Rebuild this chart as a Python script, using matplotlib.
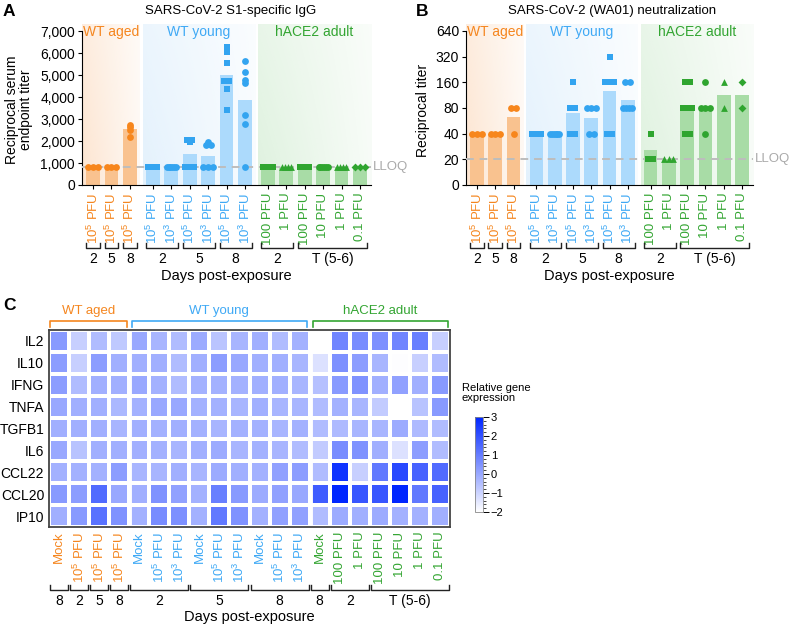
import numpy as np
import matplotlib
matplotlib.use("Agg")
import matplotlib.pyplot as plt
import matplotlib.transforms as mtransforms
from matplotlib.colors import LinearSegmentedColormap, to_rgb
from matplotlib.ticker import MultipleLocator

plt.rcParams['font.family'] = ['Liberation Sans', 'DejaVu Sans']
plt.rcParams['mathtext.fontset'] = 'custom'
plt.rcParams['mathtext.rm'] = 'Liberation Sans'
plt.rcParams['mathtext.it'] = 'Liberation Sans:italic'
plt.rcParams['mathtext.bf'] = 'Liberation Sans:bold'

### data
e5 = r'10$^{\mathregular{5}}$ PFU'
e3 = r'10$^{\mathregular{3}}$ PFU'

group_names = ['WT aged', 'WT young', 'hACE2 adult']
text_colors = ['#f5861f', '#3fa9f5', '#33a532']
point_colors = ['#f7861c', '#33a4f0', '#2fa52f']
bar_colors = ['#f9c28f', '#acdafc', '#a8dca6']
shade_colors = ['#f7a35c', '#9fd0f7', '#8fd18f']

ab_labels = [e5, e5, e5, e5, e3, e5, e3, e5, e3,
             '100 PFU', '1 PFU', '100 PFU', '10 PFU', '1 PFU', '0.1 PFU']
ab_group = [0, 0, 0, 1, 1, 1, 1, 1, 1, 2, 2, 2, 2, 2, 2]
ab_markers = ['o', 'o', 'o', 's', 'o', 's', 'o', 's', 'o', 's', '^', 's', 'o', '^', 'D']
ab_days = [('2', 0, 0), ('5', 1, 1), ('8', 2, 2), ('2', 3, 4), ('5', 5, 6),
           ('8', 7, 8), ('2', 9, 10), ('T (5-6)', 11, 14)]

# panel A: S1-specific IgG endpoint titers
igg_bars = [800, 800, 2525, 800, 800, 1400, 1300, 5000, 3850,
            800, 800, 800, 800, 800, 800]
igg_points = [
    [800, 800, 800],
    [800, 800, 800],
    [2200, 2500, 2650, 2750],
    [800] * 6,
    [800] * 6,
    [2050, 2050, 1950, 800, 800, 800],
    [1950, 1800, 1800, 800, 800, 800],
    [6290, 6060, 5530, 4730, 4730, 4350, 3410],
    [5650, 5120, 4770, 4620, 3180, 2760, 800],
    [800] * 5,
    [800] * 4,
    [800] * 6,
    [800] * 6,
    [800] * 4,
    [800] * 3,
]
igg_lloq = 800

# panel B: neutralization titers
neut_bars = [40, 40, 63, 40, 40, 70, 61, 127, 100, 26, 20, 83, 80, 113, 113]
neut_points = [
    [40, 40, 40],
    [40, 40, 40],
    [80, 80, 40],
    [40] * 6,
    [40] * 6,
    [160, 80, 80, 40, 40],
    [80, 80, 80, 40, 40],
    [320, 160, 160, 160, 40, 40],
    [160, 160, 80, 80, 80, 80],
    [40, 20, 20],
    [20, 20, 20],
    [160, 160, 80, 80, 80, 80, 40, 40],
    [160, 80, 80, 80, 40],
    [160, 80],
    [160, 80],
]
neut_lloq = 20

# panel C: heatmap
genes = ['IL2', 'IL10', 'IFNG', 'TNFA', 'TGFB1', 'IL6', 'CCL22', 'CCL20', 'IP10']
hm_labels = ['Mock', e5, e5, e5,
             'Mock', e5, e3, 'Mock', e5, e3, 'Mock', e5, e3,
             'Mock', '100 PFU', '1 PFU', '100 PFU', '10 PFU', '1 PFU', '0.1 PFU']
hm_group = [0] * 4 + [1] * 9 + [2] * 7
hm_days = [('8', 0, 0), ('2', 1, 1), ('5', 2, 2), ('8', 3, 3), ('2', 4, 6),
           ('5', 7, 9), ('8', 10, 12), ('8', 13, 13), ('2', 14, 15), ('T (5-6)', 16, 19)]
expr = [
    [0.33, -0.9, -0.45, -0.75, 0, -0.3, -0.45, -0.05, -0.65, -0.3, -0.15, -0.45, -0.2, -2, 0.8, 0.65, 0.55, 0.8, 0.96, -0.9],
    [0.25, -0.9, 0.25, -0.15, -0.15, -0.15, -0.45, -0.15, 0.25, 0, -0.15, -0.15, -0.3, -1.3, 0.55, 0.25, -0.3, -1.95, -0.9, -0.45],
    [0.25, -0.45, -0.15, -0.15, 0, -0.2, -0.45, -0.2, -0.2, -0.2, -0.15, -0.15, -0.3, -0.55, 0.33, 0.5, -0.15, 0.15, -0.15, 0.33],
    [0, -0.15, -0.15, -0.35, -0.2, 0, 0, -0.2, -0.2, -0.3, -0.15, -0.3, -0.3, -0.45, -0.2, -0.3, -0.8, -2, -0.6, 0.33],
    [-0.15, -0.15, -0.15, -0.3, -0.15, -0.2, -0.15, -0.2, -0.3, -0.2, -0.2, -0.3, -0.2, -0.45, -0.4, -0.3, -0.3, -0.05, -0.4, -0.45],
    [0, -0.6, -0.15, -0.15, -0.15, -0.2, -0.3, -0.15, -0.05, -0.3, -0.2, -0.3, -0.45, -0.8, 0.65, 0.5, -0.15, -1.3, 0.25, -0.45],
    [-0.2, -0.2, -0.2, 0.25, -0.3, -0.3, -0.15, -0.3, -0.05, -0.15, -0.2, 0.15, 0.25, -0.45, 2.7, -0.9, 1.1, 2.2, 1.6, 1.4],
    [0.33, 0.25, 1.4, 0, -0.15, 0.5, 0.15, -0.2, 0.96, 0.33, -0.05, 0.15, 0, 1.75, 3.0, 1.9, 1.9, 3.0, 1.1, 1.6],
    [-0.15, 0.33, 1.25, 0.5, -0.2, 0.65, 0.55, -0.2, 1.1, 0.5, -0.2, 0.15, 0.15, -0.45, -0.05, -0.15, -0.05, -0.2, -0.2, -0.15],
]

### layout helpers (pixel based)
W, H = 789, 626
fig = plt.figure(figsize=(W / 100, H / 100), dpi=100)


def box(l, t, r, b):
    return [l / W, 1 - b / H, (r - l) / W, (b - t) / H]


def fy(py):
    return 1 - py / H


XLIM = (-0.6, 15.1)
shade_spans = [(-0.6, 2.55), (2.7, 8.8), (8.95, 15.1)]
xs = np.arange(15) + 0.25 * np.array(ab_group)


def bar_panel(rect, points, bars, lloq, log, title, title_x, ylabel, ylabel_x):
    # gradient background in its own axes
    bg = fig.add_axes(rect, zorder=0)
    bg.axis('off')
    for g, (x0, x1) in enumerate(shade_spans):
        grad = np.zeros((60, 100, 4))
        xf = np.linspace(0, 1, 100)[None, :]
        yf = np.linspace(0, 1, 60)[:, None]
        grad[..., :3] = to_rgb(shade_colors[g])
        grad[..., 3] = 0.29 * (1 - 0.75 * xf) * (0.7 + 0.3 * yf)
        bg.imshow(grad, extent=(x0, x1, 0, 1), aspect='auto', interpolation='bilinear')
    bg.set_xlim(XLIM)
    bg.set_ylim(0, 1)

    ax = fig.add_axes(rect, zorder=1)
    ax.patch.set_alpha(0)
    base = 10 if log else 0
    if log:
        ax.set_yscale('log', base=2)
    ax.bar(xs, np.array(bars) - base, bottom=base, width=0.75,
           color=[bar_colors[g] for g in ab_group], zorder=2)
    ax.axhline(lloq, color='#bdbdbd', ls=(0, (4, 3)), lw=1.4, zorder=3)
    for i, pts in enumerate(points):
        vals, counts = np.unique(pts, return_counts=True)
        for v, n in zip(vals, counts):
            span = min(0.28 * (n - 1), 0.5)
            offs = np.linspace(-span / 2, span / 2, n)
            m = ab_markers[i]
            s = 16 if m == 'D' else 24
            ax.scatter(xs[i] + offs, [v] * n, marker=m, s=s, lw=0,
                       color=point_colors[ab_group[i]], zorder=4, clip_on=False)
    ax.text(XLIM[1] + 0.1, lloq, 'LLOQ', color='#aaaaaa', fontsize=9.5,
            ha='left', va='center', clip_on=False)

    ax.set_xlim(XLIM)
    ax.spines['top'].set_visible(False)
    ax.spines['right'].set_visible(False)
    ax.set_xticks(xs)
    ax.set_xticklabels(ab_labels, rotation=90, fontsize=9.5, va='top')
    for lab, g in zip(ax.get_xticklabels(), ab_group):
        lab.set_color(text_colors[g])
    ax.tick_params(axis='x', length=3, pad=2.5)
    ax.tick_params(axis='y', length=3, pad=2, labelsize=10)

    tr = mtransforms.blended_transform_factory(ax.transData, fig.transFigure)
    for g, (x0, x1) in enumerate(shade_spans):
        ax.text((x0 + x1) / 2, fy(32), group_names[g], transform=tr, color=text_colors[g],
                fontsize=10, ha='center', va='center')
    for lab, i0, i1 in ab_days:
        a, b = xs[i0] - 0.37, xs[i1] + 0.37
        ax.plot([a, a, b, b], [fy(243), fy(248), fy(248), fy(243)], transform=tr,
                clip_on=False, color='#222222', lw=1)
        ax.text((xs[i0] + xs[i1]) / 2, fy(259), lab, transform=tr,
                ha='center', va='center', fontsize=10)
    tra = mtransforms.blended_transform_factory(ax.transAxes, fig.transFigure)
    ax.text(0.5, fy(276), 'Days post-exposure', transform=tra, ha='center', va='center', fontsize=10.5)
    fig.text(title_x / W, fy(11), title, ha='center', va='center', fontsize=9.5)
    fig.text(ylabel_x / W, fy(110), ylabel, ha='center', va='center', rotation=90,
             fontsize=10, linespacing=1.05)
    return ax


### panel A
axA = bar_panel(box(82, 24, 371, 185), igg_points, igg_bars, igg_lloq, False,
                'SARS-CoV-2 S1-specific IgG', 231, 'Reciprocal serum\nendpoint titer', 19)
axA.set_ylim(0, 7320)
axA.spines['left'].set_bounds(0, 7000)
axA.set_yticks(np.arange(0, 7001, 1000))
axA.set_yticklabels(['0'] + ['{:,}'.format(v) for v in range(1000, 7001, 1000)])

### panel B
axB = bar_panel(box(466, 24, 753, 185), neut_points, neut_bars, neut_lloq, True,
                'SARS-CoV-2 (WA01) neutralization', 612, 'Reciprocal titer', 423)
axB.set_ylim(10, 773)
axB.spines['left'].set_bounds(10, 640)
axB.set_yticks([10, 20, 40, 80, 160, 320, 640])
axB.set_yticklabels(['0', '20', '40', '80', '160', '320', '640'])
axB.yaxis.set_minor_locator(plt.NullLocator())

### panel C heatmap
cmap = LinearSegmentedColormap.from_list('wb', ['#ffffff', '#0026ff'])
axC = fig.add_axes(box(49, 330, 450, 527))
mesh = axC.pcolormesh(np.arange(21) - 0.5, np.arange(10) - 0.5, np.array(expr),
                      cmap=cmap, vmin=-2, vmax=3, edgecolors='white', linewidth=1.6)
axC.axvline(3.5, color='white', lw=3.5)
axC.axvline(12.5, color='white', lw=3.5)
axC.set_xlim(-0.5, 19.5)
axC.set_ylim(8.5, -0.5)
for sp in axC.spines.values():
    sp.set_color('#444444')
    sp.set_linewidth(1.3)
axC.set_yticks(range(9))
axC.set_yticklabels(genes, fontsize=10)
axC.set_xticks(range(20))
axC.set_xticklabels(hm_labels, rotation=90, fontsize=9.5, va='top')
for lab, g in zip(axC.get_xticklabels(), hm_group):
    lab.set_color(text_colors[g])
axC.tick_params(length=0, pad=3.5)

trC = mtransforms.blended_transform_factory(axC.transData, fig.transFigure)
hm_spans = [(-0.45, 3.4), (3.65, 12.35), (12.65, 19.4)]
for g, (a, b) in enumerate(hm_spans):
    axC.plot([a, a, b, b], [fy(327), fy(321), fy(321), fy(327)], transform=trC,
             clip_on=False, color=text_colors[g], lw=1.2)
    axC.text((a + b) / 2, fy(311), group_names[g], transform=trC, color=text_colors[g],
             fontsize=9.5, ha='center', va='center')
for lab, i0, i1 in hm_days:
    a, b = i0 - 0.45, i1 + 0.45
    axC.plot([a, a, b, b], [fy(585), fy(590), fy(590), fy(585)], transform=trC,
             clip_on=False, color='#222222', lw=1)
    axC.text((i0 + i1) / 2, fy(601), lab, transform=trC, ha='center', va='center', fontsize=10)
trCa = mtransforms.blended_transform_factory(axC.transAxes, fig.transFigure)
axC.text(0.5, fy(617), 'Days post-exposure', transform=trCa, ha='center', va='center', fontsize=10.5)

### colorbar
cax = fig.add_axes(box(475, 417, 483, 512))
cb = fig.colorbar(mesh, cax=cax, ticks=range(-2, 4))
cb.outline.set_linewidth(0.6)
cb.outline.set_edgecolor('#888888')
cax.yaxis.set_minor_locator(MultipleLocator(0.2))
cax.tick_params(which='major', length=4, width=0.7, labelsize=8, pad=1.5)
cax.tick_params(which='minor', length=2, width=0.5)
fig.text(462 / W, fy(383), 'Relative gene\nexpression', ha='left', va='top',
         fontsize=8, linespacing=1.0)

### panel letters
for lab, px, py in [('A', 3, 11), ('B', 416, 11), ('C', 3, 306)]:
    fig.text(px / W, fy(py), lab, fontsize=12.5, fontweight='bold', ha='left', va='center')

fig.savefig('out.png', dpi=100)
